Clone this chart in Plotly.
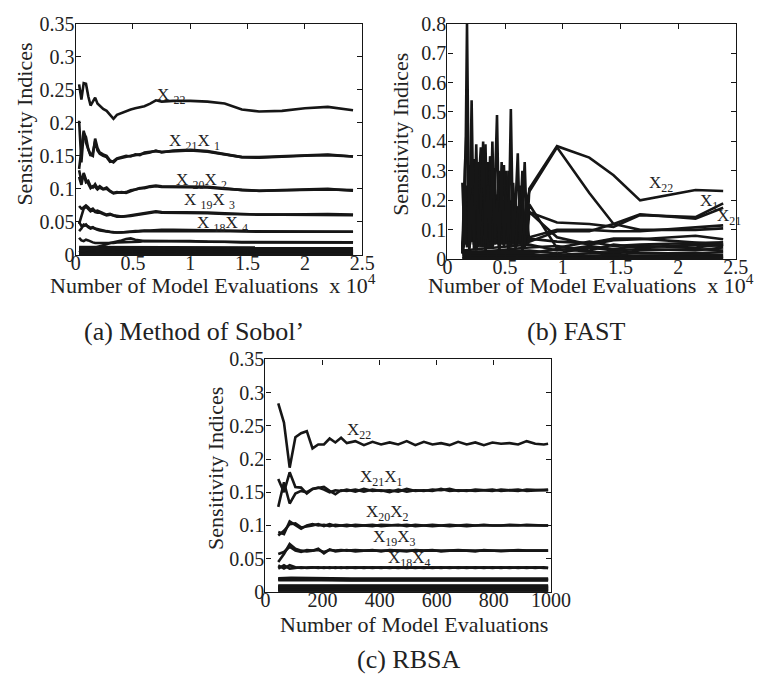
import plotly.graph_objects as go

W, H = 782, 688
FONT = "Liberation Serif, Times New Roman, serif"
INK = "#161616"
TXT = "#222222"

# ---------------- (a) Method of Sobol' ----------------
sobol_n = [0.03, 0.05, 0.07, 0.09, 0.11, 0.13, 0.15, 0.17, 0.19, 0.21, 0.24, 0.27,
           0.30, 0.33, 0.36, 0.40, 0.44, 0.48, 0.52, 0.56, 0.60, 0.65, 0.70, 0.75,
           0.85, 1.0, 1.15, 1.3, 1.45, 1.6, 1.8, 2.0, 2.2, 2.42]
sobol_x22 = [0.258, 0.235, 0.260, 0.259, 0.240, 0.226, 0.232, 0.238, 0.229, 0.226, 0.221, 0.218,
             0.212, 0.206, 0.212, 0.215, 0.217, 0.220, 0.222, 0.224, 0.225, 0.229, 0.234, 0.232,
             0.233, 0.233, 0.232, 0.229, 0.220, 0.217, 0.218, 0.222, 0.224, 0.219]
sobol_x21 = [0.203, 0.140, 0.185, 0.178, 0.160, 0.152, 0.150, 0.176, 0.162, 0.155, 0.152, 0.150,
             0.143, 0.140, 0.145, 0.147, 0.148, 0.150, 0.151, 0.152, 0.154, 0.155, 0.158, 0.155,
             0.158, 0.159, 0.157, 0.153, 0.148, 0.148, 0.149, 0.151, 0.152, 0.149]
sobol_x1 = [0.130, 0.160, 0.188, 0.170, 0.158, 0.150, 0.155, 0.172, 0.158, 0.153, 0.150, 0.148,
            0.141, 0.142, 0.146, 0.148, 0.150, 0.149, 0.152, 0.151, 0.155, 0.156, 0.157, 0.156,
            0.157, 0.158, 0.156, 0.152, 0.148, 0.147, 0.149, 0.150, 0.151, 0.149]
sobol_x20 = [0.128, 0.112, 0.122, 0.110, 0.112, 0.104, 0.102, 0.107, 0.101, 0.104, 0.100, 0.102,
             0.097, 0.094, 0.095, 0.094, 0.095, 0.098, 0.099, 0.100, 0.102, 0.104, 0.105, 0.104,
             0.104, 0.104, 0.103, 0.101, 0.098, 0.097, 0.098, 0.099, 0.099, 0.098]
sobol_x2 = [0.118, 0.106, 0.124, 0.114, 0.108, 0.101, 0.104, 0.103, 0.099, 0.102, 0.099, 0.100,
            0.096, 0.093, 0.094, 0.095, 0.094, 0.097, 0.099, 0.101, 0.101, 0.103, 0.104, 0.103,
            0.103, 0.103, 0.102, 0.100, 0.098, 0.097, 0.098, 0.099, 0.100, 0.097]
sobol_x19 = [0.074, 0.070, 0.072, 0.075, 0.072, 0.068, 0.070, 0.066, 0.067, 0.065, 0.063, 0.061,
             0.062, 0.060, 0.059, 0.058, 0.059, 0.060, 0.061, 0.062, 0.063, 0.064, 0.066, 0.065,
             0.065, 0.065, 0.064, 0.063, 0.062, 0.061, 0.061, 0.062, 0.062, 0.061]
sobol_x3 = [0.047, 0.058, 0.070, 0.073, 0.069, 0.066, 0.068, 0.065, 0.064, 0.064, 0.062, 0.060,
            0.061, 0.059, 0.058, 0.058, 0.058, 0.059, 0.060, 0.061, 0.062, 0.063, 0.065, 0.064,
            0.064, 0.064, 0.063, 0.062, 0.061, 0.061, 0.061, 0.061, 0.061, 0.060]
sobol_x18 = [0.036, 0.040, 0.046, 0.045, 0.043, 0.041, 0.042, 0.040, 0.039, 0.038, 0.037, 0.036,
             0.035, 0.034, 0.034, 0.034, 0.035, 0.035, 0.036, 0.036, 0.037, 0.037, 0.038, 0.038,
             0.038, 0.038, 0.038, 0.037, 0.036, 0.036, 0.036, 0.036, 0.036, 0.035]
sobol_x4 = [0.050, 0.044, 0.044, 0.046, 0.042, 0.040, 0.041, 0.039, 0.038, 0.037, 0.036, 0.035,
            0.035, 0.034, 0.034, 0.034, 0.034, 0.035, 0.035, 0.036, 0.036, 0.037, 0.037, 0.037,
            0.037, 0.037, 0.037, 0.036, 0.036, 0.035, 0.035, 0.035, 0.035, 0.035]
sobol_x17 = [0.026, 0.022, 0.021, 0.023, 0.022, 0.020, 0.019, 0.018, 0.018, 0.017, 0.017, 0.017,
             0.018, 0.018, 0.019, 0.019, 0.020, 0.020, 0.020, 0.020, 0.021, 0.021, 0.021, 0.021,
             0.021, 0.020, 0.020, 0.020, 0.019, 0.019, 0.019, 0.019, 0.019, 0.019]
sobol_x16 = [0.004, 0.006, 0.006, 0.007, 0.008, 0.008, 0.009, 0.010, 0.011, 0.012, 0.014, 0.016,
             0.018, 0.019, 0.021, 0.022, 0.024, 0.025, 0.023, 0.022, 0.021, 0.021, 0.021, 0.022,
             0.021, 0.021, 0.020, 0.020, 0.019, 0.019, 0.019, 0.019, 0.019, 0.019]
# remaining (near-zero) indices X5..X15, sampled coarsely
sobol_small_n = [0.03, 0.6, 1.2, 1.8, 2.42]
sobol_small = [
    [0.0120, 0.0115, 0.0115, 0.0110, 0.0110],
    [0.0105, 0.0105, 0.0100, 0.0100, 0.0100],
    [0.0095, 0.0095, 0.0090, 0.0090, 0.0090],
    [0.0085, 0.0080, 0.0080, 0.0080, 0.0080],
    [0.0075, 0.0070, 0.0070, 0.0070, 0.0070],
    [0.0065, 0.0060, 0.0060, 0.0060, 0.0060],
    [0.0055, 0.0050, 0.0050, 0.0050, 0.0050],
    [0.0045, 0.0040, 0.0040, 0.0040, 0.0040],
    [0.0035, 0.0030, 0.0030, 0.0030, 0.0030],
    [0.0025, 0.0020, 0.0020, 0.0020, 0.0020],
    [0.0015, 0.0012, 0.0012, 0.0012, 0.0012],
    [0.0008, 0.0006, 0.0006, 0.0006, 0.0006],
    [0.0003, 0.0002, 0.0002, 0.0002, 0.0002],
]

# ---------------- (b) FAST ----------------
fast_n = [0.13, 0.15, 0.17, 0.19, 0.21, 0.23, 0.25, 0.27, 0.29, 0.31,
          0.33, 0.35, 0.37, 0.39, 0.41, 0.43, 0.45, 0.47, 0.49, 0.51,
          0.53, 0.55, 0.57, 0.59, 0.61, 0.63, 0.65, 0.67, 0.69, 0.71,
          0.95, 1.23, 1.44, 1.67, 2.15, 2.39]
fast_x22 = [0.26, 0.05, 0.80, 0.03, 0.22, 0.06, 0.39, 0.04, 0.18, 0.40,
            0.05, 0.25, 0.06, 0.40, 0.07, 0.20, 0.05, 0.33, 0.04, 0.22,
            0.06, 0.51, 0.05, 0.18, 0.36, 0.06, 0.15, 0.33, 0.08, 0.24,
            0.384, 0.345, 0.285, 0.200, 0.235, 0.232]
fast_a = [0.03, 0.30, 0.47, 0.04, 0.54, 0.03, 0.12, 0.33, 0.04, 0.15,
          0.39, 0.04, 0.30, 0.05, 0.22, 0.49, 0.04, 0.18, 0.32, 0.05,
          0.30, 0.06, 0.22, 0.05, 0.18, 0.12, 0.30, 0.05, 0.20, 0.23,
          0.38, 0.225, 0.12, 0.10, 0.10, 0.105]
fast_x1 = [0.02, 0.18, 0.05, 0.32, 0.06, 0.30, 0.05, 0.25, 0.38, 0.04,
           0.28, 0.06, 0.35, 0.24, 0.05, 0.10, 0.30, 0.05, 0.12, 0.28,
           0.04, 0.20, 0.15, 0.04, 0.10, 0.25, 0.04, 0.12, 0.19, 0.16,
           0.125, 0.12, 0.11, 0.150, 0.143, 0.190]
fast_x21 = [0.03, 0.10, 0.25, 0.06, 0.20, 0.34, 0.03, 0.16, 0.30, 0.05,
            0.20, 0.33, 0.04, 0.18, 0.31, 0.05, 0.22, 0.13, 0.05, 0.30,
            0.12, 0.04, 0.26, 0.10, 0.05, 0.16, 0.22, 0.04, 0.14, 0.06,
            0.095, 0.095, 0.12, 0.153, 0.138, 0.175]
fast_b = [0.02, 0.22, 0.04, 0.20, 0.12, 0.05, 0.30, 0.08, 0.12, 0.27,
          0.05, 0.18, 0.25, 0.06, 0.24, 0.14, 0.04, 0.25, 0.08, 0.12,
          0.22, 0.05, 0.10, 0.20, 0.06, 0.08, 0.18, 0.12, 0.05, 0.075,
          0.10, 0.10, 0.095, 0.095, 0.108, 0.115]
fast_c = [0.04, 0.12, 0.18, 0.08, 0.10, 0.22, 0.06, 0.14, 0.20, 0.08,
          0.12, 0.20, 0.10, 0.15, 0.08, 0.22, 0.12, 0.06, 0.20, 0.10,
          0.08, 0.16, 0.06, 0.12, 0.14, 0.05, 0.10, 0.15, 0.07, 0.16,
          0.075, 0.05, 0.065, 0.068, 0.080, 0.068]
fast_d = [0.05, 0.08, 0.12, 0.15, 0.06, 0.10, 0.18, 0.05, 0.09, 0.14,
          0.07, 0.10, 0.16, 0.06, 0.12, 0.08, 0.15, 0.07, 0.10, 0.06,
          0.14, 0.09, 0.05, 0.12, 0.08, 0.10, 0.06, 0.09, 0.12, 0.186,
          0.038, 0.06, 0.045, 0.05, 0.055, 0.058]
fast_e = [0.02, 0.06, 0.10, 0.04, 0.08, 0.12, 0.03, 0.09, 0.06, 0.11,
          0.03, 0.08, 0.10, 0.04, 0.07, 0.10, 0.03, 0.09, 0.05, 0.08,
          0.03, 0.07, 0.11, 0.04, 0.06, 0.09, 0.03, 0.07, 0.05, 0.07,
          0.06, 0.055, 0.07, 0.07, 0.055, 0.05]
fast_small_n = [0.13, 0.71, 0.95, 1.23, 1.44, 1.67, 2.15, 2.39]
fast_small = [
    [0.030, 0.050, 0.030, 0.045, 0.035, 0.045, 0.040, 0.050],
    [0.020, 0.040, 0.045, 0.030, 0.050, 0.040, 0.050, 0.045],
    [0.025, 0.030, 0.020, 0.040, 0.030, 0.035, 0.030, 0.040],
    [0.020, 0.020, 0.035, 0.025, 0.020, 0.030, 0.035, 0.030],
    [0.015, 0.015, 0.015, 0.020, 0.025, 0.020, 0.020, 0.025],
    [0.010, 0.010, 0.010, 0.012, 0.015, 0.012, 0.015, 0.015],
    [0.005, 0.006, 0.005, 0.006, 0.008, 0.007, 0.008, 0.008],
    [0.003, 0.003, 0.003, 0.003, 0.004, 0.003, 0.004, 0.004],
]

# ---------------- (c) RBSA ----------------
rbsa_n = [45, 65, 85, 105, 125, 145, 165, 185, 205, 225, 245, 265, 285,
          315, 345, 375, 405, 435, 465, 495, 525, 555, 585, 615, 645, 675,
          705, 735, 765, 795, 825, 855, 885, 915, 945, 975, 990]
rbsa_x22 = [0.284, 0.255, 0.187, 0.233, 0.239, 0.242, 0.216, 0.222, 0.222, 0.231,
            0.225, 0.232, 0.224, 0.227, 0.221, 0.226, 0.222, 0.225, 0.222, 0.227,
            0.221, 0.226, 0.222, 0.224, 0.221, 0.226, 0.222, 0.225, 0.221, 0.225,
            0.223, 0.224, 0.222, 0.227, 0.223, 0.222, 0.223]
rbsa_x21 = [0.170, 0.150, 0.180, 0.158, 0.157, 0.148, 0.155, 0.156, 0.158, 0.152,
            0.147, 0.153, 0.152, 0.154, 0.151, 0.154, 0.152, 0.153, 0.151, 0.155,
            0.152, 0.153, 0.152, 0.155, 0.152, 0.153, 0.152, 0.154, 0.153, 0.152,
            0.154, 0.153, 0.152, 0.154, 0.153, 0.153, 0.153]
rbsa_x1 = [0.128, 0.165, 0.133, 0.148, 0.152, 0.150, 0.155, 0.157, 0.154, 0.150,
           0.153, 0.152, 0.154, 0.151, 0.155, 0.152, 0.153, 0.150, 0.154, 0.151,
           0.153, 0.152, 0.154, 0.153, 0.155, 0.152, 0.153, 0.152, 0.153, 0.154,
           0.152, 0.153, 0.154, 0.152, 0.153, 0.154, 0.154]
rbsa_x20 = [0.090, 0.087, 0.106, 0.100, 0.095, 0.100, 0.102, 0.100, 0.101, 0.099,
            0.101, 0.100, 0.099, 0.101, 0.100, 0.099, 0.101, 0.100, 0.100, 0.101,
            0.099, 0.100, 0.101, 0.100, 0.099, 0.100, 0.101, 0.100, 0.100, 0.099,
            0.100, 0.101, 0.100, 0.100, 0.100, 0.100, 0.100]
rbsa_x2 = [0.085, 0.092, 0.102, 0.103, 0.097, 0.098, 0.100, 0.102, 0.099, 0.102,
           0.099, 0.100, 0.101, 0.099, 0.100, 0.101, 0.099, 0.100, 0.101, 0.099,
           0.101, 0.100, 0.099, 0.100, 0.101, 0.100, 0.099, 0.100, 0.101, 0.100,
           0.100, 0.099, 0.100, 0.101, 0.100, 0.100, 0.100]
rbsa_x19 = [0.045, 0.057, 0.072, 0.065, 0.062, 0.061, 0.062, 0.063, 0.060, 0.063,
            0.062, 0.063, 0.062, 0.063, 0.062, 0.062, 0.063, 0.062, 0.063, 0.062,
            0.062, 0.063, 0.062, 0.062, 0.063, 0.062, 0.062, 0.063, 0.062, 0.062,
            0.063, 0.062, 0.062, 0.063, 0.062, 0.062, 0.062]
rbsa_x3 = [0.057, 0.060, 0.068, 0.062, 0.060, 0.063, 0.062, 0.065, 0.058, 0.064,
           0.061, 0.062, 0.063, 0.061, 0.062, 0.063, 0.061, 0.063, 0.062, 0.061,
           0.063, 0.062, 0.063, 0.061, 0.062, 0.063, 0.062, 0.061, 0.063, 0.062,
           0.061, 0.062, 0.063, 0.062, 0.062, 0.061, 0.062]
rbsa_x18 = [0.040, 0.035, 0.040, 0.037, 0.036, 0.037, 0.037, 0.036, 0.037, 0.036,
            0.037, 0.036, 0.037, 0.036, 0.037, 0.036, 0.037, 0.036, 0.037, 0.036,
            0.037, 0.036, 0.037, 0.036, 0.037, 0.036, 0.037, 0.036, 0.037, 0.036,
            0.037, 0.036, 0.037, 0.036, 0.037, 0.036, 0.036]
rbsa_x4 = [0.035, 0.040, 0.035, 0.036, 0.037, 0.036, 0.037, 0.037, 0.036, 0.037,
           0.036, 0.037, 0.036, 0.037, 0.036, 0.037, 0.036, 0.037, 0.036, 0.037,
           0.036, 0.037, 0.036, 0.037, 0.036, 0.037, 0.036, 0.037, 0.036, 0.037,
           0.036, 0.037, 0.036, 0.037, 0.036, 0.037, 0.036]
rbsa_small_n = [45, 90, 300, 600, 990]
rbsa_small = [
    [0.0205, 0.021, 0.020, 0.020, 0.020],
    [0.0195, 0.020, 0.019, 0.019, 0.019],
    [0.0185, 0.019, 0.018, 0.018, 0.018],
    [0.0175, 0.018, 0.017, 0.017, 0.017],
    [0.0095, 0.0095, 0.0095, 0.0095, 0.0095],
    [0.0085, 0.0085, 0.0085, 0.0085, 0.0085],
    [0.0075, 0.0075, 0.0075, 0.0075, 0.0075],
    [0.0065, 0.0065, 0.0065, 0.0065, 0.0065],
    [0.0055, 0.0055, 0.0055, 0.0055, 0.0055],
    [0.0045, 0.0045, 0.0045, 0.0045, 0.0045],
    [0.0035, 0.0035, 0.0035, 0.0035, 0.0035],
    [0.0025, 0.0025, 0.0025, 0.0025, 0.0025],
    [0.0015, 0.0015, 0.0015, 0.0015, 0.0015],
    [0.0005, 0.0005, 0.0005, 0.0005, 0.0005],
]

# Tick labels
y_idx_vals = [0, 0.05, 0.1, 0.15, 0.2, 0.25, 0.3, 0.35]
y_idx_text = ["0", "0.05", "0.1", "0.15", "0.2", "0.25", "0.3", "0.35"]
y_fast_vals = [0, 0.1, 0.2, 0.3, 0.4, 0.5, 0.6, 0.7, 0.8]
y_fast_text = ["0", "0.1", "0.2", "0.3", "0.4", "0.5", "0.6", "0.7", "0.8"]
x_e4_vals = [0, 0.5, 1, 1.5, 2, 2.5]
x_e4_text = ["0", "0.5", "1", "1.5", "2", "2.5"]
x_n_vals = [0, 200, 400, 600, 800, 1000]
x_n_text = ["0", "200", "400", "600", "800", "1000"]

fig = go.Figure()


def add_line(xs, ys, xa, ya):
    fig.add_trace(go.Scatter(x=xs, y=ys, mode="lines", xaxis=xa, yaxis=ya,
                             line=dict(color=INK, width=2.6),
                             showlegend=False, hoverinfo="skip"))


# (a)
for s in sobol_small:
    add_line(sobol_small_n, s, "x", "y")
for s in [sobol_x16, sobol_x17, sobol_x4, sobol_x18, sobol_x3, sobol_x19,
          sobol_x2, sobol_x20, sobol_x1, sobol_x21, sobol_x22]:
    add_line(sobol_n, s, "x", "y")

# (b)
for s in fast_small:
    add_line(fast_small_n, s, "x2", "y2")
for s in [fast_e, fast_d, fast_c, fast_b, fast_x21, fast_x1, fast_a, fast_x22]:
    add_line(fast_n, s, "x2", "y2")

# (c)
for s in rbsa_small:
    add_line(rbsa_small_n, s, "x3", "y3")
for s in [rbsa_x4, rbsa_x18, rbsa_x3, rbsa_x19, rbsa_x2, rbsa_x20,
          rbsa_x1, rbsa_x21, rbsa_x22]:
    add_line(rbsa_n, s, "x3", "y3")

axis_style = dict(showline=True, linecolor=INK, linewidth=1.3, mirror="ticks",
                  ticks="inside", ticklen=5, tickwidth=1, tickcolor=INK,
                  showgrid=False, zeroline=False,
                  tickfont=dict(family=FONT, size=20, color=TXT))
xs_style = dict(axis_style, ticklabelstandoff=-10)
ys_style = dict(axis_style, ticklabelstandoff=-4)


def px_x(p):
    return p / W


def px_y(p):
    return 1 - p / H


fig.update_layout(
    width=W, height=H, margin=dict(l=0, r=0, t=0, b=0),
    paper_bgcolor="white", plot_bgcolor="white",
    font=dict(family=FONT, color=TXT),
    xaxis=dict(domain=[px_x(73), px_x(369)], anchor="y", range=[0, 2.5],
               tickvals=x_e4_vals, ticktext=x_e4_text, **xs_style),
    yaxis=dict(domain=[px_y(252), px_y(13)], anchor="x", range=[0, 0.35],
               tickvals=y_idx_vals, ticktext=y_idx_text, **ys_style),
    xaxis2=dict(domain=[px_x(457), px_x(755)], anchor="y2", range=[0, 2.5],
                tickvals=x_e4_vals, ticktext=x_e4_text, **xs_style),
    yaxis2=dict(domain=[px_y(256.5), px_y(13)], anchor="x2", range=[0, 0.8],
                tickvals=y_fast_vals, ticktext=y_fast_text, **ys_style),
    xaxis3=dict(domain=[px_x(269), px_x(564)], anchor="y3", range=[0, 1000],
                tickvals=x_n_vals, ticktext=x_n_text, **xs_style),
    yaxis3=dict(domain=[px_y(600), px_y(360)], anchor="x3", range=[0, 0.35],
                tickvals=y_idx_vals, ticktext=y_idx_text, **ys_style),
)

ann = []
# curve labels
lab_font = dict(family=FONT, size=17, color=TXT)
for txt, x, y, xr, yr in [
    ("X <sub>22</sub>", 0.69, 0.241, "x", "y"),
    ("X <sub>21</sub>X <sub>1</sub>", 0.80, 0.171, "x", "y"),
    ("X <sub>20</sub>X <sub>2</sub>", 0.86, 0.112, "x", "y"),
    ("X <sub>19</sub>X <sub>3</sub>", 0.925, 0.081, "x", "y"),
    ("X <sub>18</sub>X <sub>4</sub>", 1.04, 0.047, "x", "y"),
    ("X<sub>22</sub>", 1.73, 0.257, "x2", "y2"),
    ("X<sub>1</sub>", 2.17, 0.196, "x2", "y2"),
    ("X<sub>21</sub>", 2.32, 0.145, "x2", "y2"),
    ("X<sub>22</sub>", 278, 0.243, "x3", "y3"),
    ("X<sub>21</sub>X<sub>1</sub>", 323, 0.171, "x3", "y3"),
    ("X<sub>20</sub>X<sub>2</sub>", 345, 0.118, "x3", "y3"),
    ("X<sub>19</sub>X<sub>3</sub>", 371, 0.081, "x3", "y3"),
    ("X<sub>18</sub>X<sub>4</sub>", 421, 0.049, "x3", "y3"),
]:
    ann.append(dict(text=txt, x=x, y=y, xref=xr, yref=yr, xanchor="left",
                    yanchor="middle", showarrow=False, font=lab_font))

# axis titles and captions
title_font = dict(family=FONT, size=22, color=TXT)
cap_font = dict(family=FONT, size=26, color=TXT)
xt = "Number of Model Evaluations  x 10<sup>4</sup>"
for txt, x, y, f, ang in [
    ("Sensitivity Indices", 20, 117, title_font, -90),
    ("Sensitivity Indices", 409, 127, title_font, -90),
    ("Sensitivity Indices", 218, 473, title_font, -90),
    (xt, 215, 282, title_font, 0),
    (xt, 605, 282, title_font, 0),
    ("Number of Model Evaluations", 422, 634, title_font, 0),
    ("(a) Method of Sobol\u2019", 195, 331, cap_font, 0),
    ("(b) FAST", 590, 331, cap_font, 0),
    ("(c) RBSA", 417, 670, cap_font, 0),
]:
    ann.append(dict(text=txt, x=px_x(x), y=px_y(y), xref="paper", yref="paper",
                    xanchor="center", yanchor="middle", showarrow=False,
                    font=f, textangle=ang))

fig.update_layout(annotations=ann)
fig.write_html("out.html")
